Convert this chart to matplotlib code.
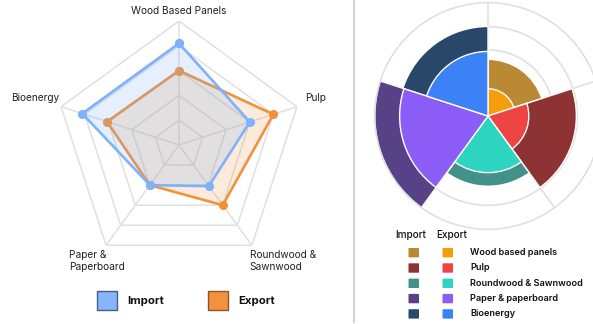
import numpy as np
import matplotlib
matplotlib.use("Agg")
import matplotlib.pyplot as plt
from matplotlib.patches import Rectangle, FancyBboxPatch
from matplotlib.lines import Line2D

plt.rcParams['font.family'] = ['Inter', 'DejaVu Sans']

# radar data
radar_labels = ["Wood Based Panels", "Pulp", "Roundwood &\nSawnwood", "Paper &\nPaperboard", "Bioenergy"]
radar_import = [82, 60, 41, 40, 82]
radar_export = [60, 80, 60, 40, 61]

# polar area data
polar_labels = ["Wood based panels", "Pulp", "Roundwood & Sawnwood", "Paper & paperboard", "Bioenergy"]
polar_import = [0.50, 0.78, 0.62, 1.00, 0.79]
polar_export = [0.24, 0.36, 0.50, 0.78, 0.57]
import_colors = ["#b98934", "#8e3333", "#43928a", "#574287", "#284769"]
export_colors = ["#f59e0b", "#ef4444", "#2dd4bf", "#8b5cf6", "#3b82f6"]

W, H = 593, 324
fig = plt.figure(figsize=(W / 100, H / 100), dpi=100)


def fx(x):
    return x / W


def fy(y):
    return 1 - y / H


grid_col = "#e0e0e0"

# ---- left: radar chart ----
cx, cy, R = 179, 145, 124
ax = fig.add_axes([fx(cx - R), fy(cy + R), 2 * R / W, 2 * R / H], projection='polar')
ax.set_theta_zero_location('N')
ax.set_theta_direction(-1)
ax.set_ylim(0, 100)
ax.grid(False)
ax.spines['polar'].set_visible(False)
ax.set_xticks([])
ax.set_yticks([])
ax.patch.set_alpha(0)

n = len(radar_labels)
ang = np.arange(n) * 2 * np.pi / n
ang_c = np.append(ang, ang[0])
for lev in [20, 40, 60, 80, 100]:
    ax.plot(ang_c, [lev] * (n + 1), color=grid_col, lw=1.1, zorder=1)
for a in ang:
    ax.plot([a, a], [0, 100], color=grid_col, lw=1.1, zorder=1)

exp_c = np.append(radar_export, radar_export[0])
imp_c = np.append(radar_import, radar_import[0])
ax.fill(ang_c, exp_c, color="#f0923a", alpha=0.18, zorder=2, lw=0)
ax.plot(ang_c, exp_c, color="#f0923a", lw=1.9, marker='o', ms=5.5, zorder=3)
ax.fill(ang_c, imp_c, color="#7eb2fa", alpha=0.2, zorder=4, lw=0)
ax.plot(ang_c, imp_c, color="#7eb2fa", lw=1.9, marker='o', ms=5.5, zorder=5)

offsets = [(0, 10, 'center', 'center'), (8, 9, 'left', 'center'), (-2, -5, 'left', 'top'),
           (-37, -5, 'left', 'top'), (-2, 9, 'right', 'center')]
for a, lab, (ox, oy, ha, va) in zip(ang, radar_labels, offsets):
    ax.annotate(lab, xy=(a, 100), xytext=(ox, oy), textcoords='offset pixels',
                ha=ha, va=va, fontsize=7.3, color="#222222", linespacing=1.25)

# legend for radar
for x0, tx, lab, fc, ec in [(97, 127, "Import", "#84b5fd", "#4a5f80"), (208, 238, "Export", "#f5903d", "#8a5530")]:
    fig.add_artist(Rectangle((fx(x0), fy(310)), 20 / W, 19 / H, transform=fig.transFigure,
                             facecolor=fc, edgecolor=ec, lw=1))
    fig.text(fx(tx), fy(300.5), lab, fontsize=8.2, fontweight='bold', va='center', ha='left', color="#111111")

# divider
fig.add_artist(Line2D([fx(353.5), fx(353.5)], [fy(322), 1], transform=fig.transFigure, color="#d4d4d4", lw=1.5))

# ---- right: polar area chart ----
pcx, pcy, PR = 488, 116, 113.3
ax2 = fig.add_axes([fx(pcx - PR), fy(pcy + PR), 2 * PR / W, 2 * PR / H], projection='polar')
ax2.set_theta_zero_location('N')
ax2.set_theta_direction(-1)
ax2.set_ylim(0, 1)
ax2.grid(False)
ax2.set_xticks([])
ax2.set_yticks([])
ax2.spines['polar'].set_color(grid_col)
ax2.spines['polar'].set_linewidth(1.2)
ax2.patch.set_alpha(0)

tt = np.linspace(0, 2 * np.pi, 300)
for rr in [0.17, 0.377, 0.583, 0.788]:
    ax2.plot(tt, [rr] * len(tt), color=grid_col, lw=1.2, zorder=1)
width = 2 * np.pi / len(polar_labels)
theta = np.arange(len(polar_labels)) * width
for a in theta:
    ax2.plot([a, a], [0, 1], color=grid_col, lw=1.2, zorder=1)
ax2.bar(theta, polar_import, width=width, align='edge', color=import_colors,
        edgecolor='white', lw=1, zorder=2, clip_on=False)
ax2.bar(theta, polar_export, width=width, align='edge', color=export_colors,
        edgecolor='white', lw=1, zorder=3, clip_on=False)

# legend for polar area
fig.text(fx(411), fy(235.5), "Import", fontsize=7.2, fontweight='medium', ha='center', va='center', color="#111111")
fig.text(fx(452), fy(235.5), "Export", fontsize=7.2, fontweight='medium', ha='center', va='center', color="#111111")
for i, lab in enumerate(polar_labels):
    yc = 252.7 + i * 15.3
    for x0, col in [(408.5, import_colors[i]), (442.5, export_colors[i])]:
        fig.add_artist(FancyBboxPatch((fx(x0), fy(yc + 4.7)), 10.5 / W, 9.4 / H,
                                      boxstyle="round,pad=0,rounding_size=0.002",
                                      transform=fig.transFigure, facecolor=col, edgecolor='none'))
    fig.text(fx(470), fy(yc), lab, fontsize=6.6, fontweight='semibold', ha='left', va='center', color="#111111")

fig.savefig("out.png", dpi=100)
